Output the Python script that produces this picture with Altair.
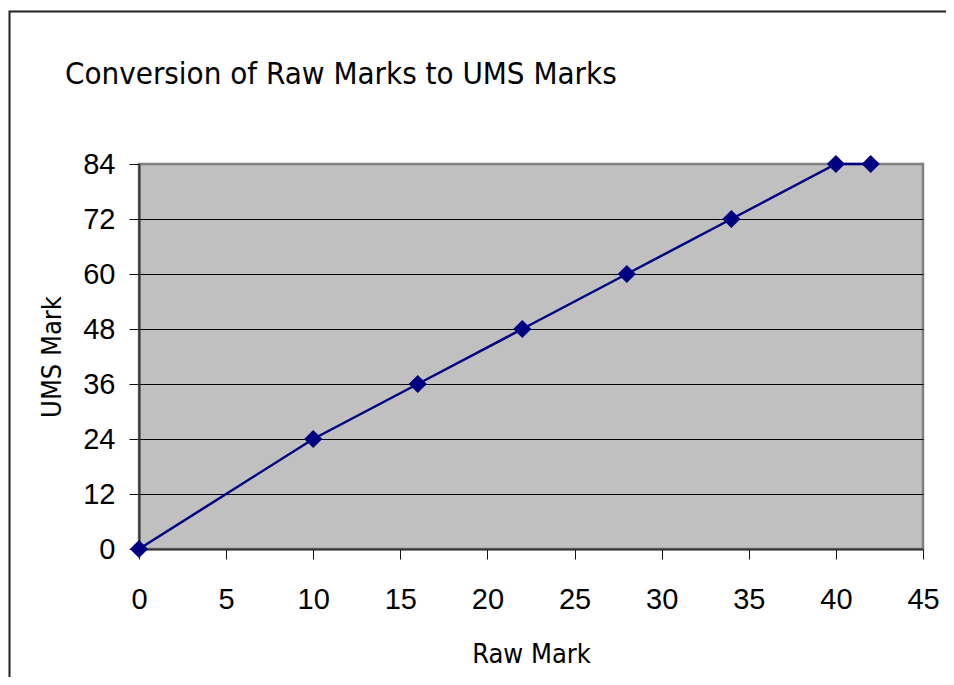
import altair as alt
import pandas as pd

raw_marks = [0, 10, 16, 22, 28, 34, 40, 42]
ums_marks = [0, 24, 36, 48, 60, 72, 84, 84]
x_ticks = [0, 5, 10, 15, 20, 25, 30, 35, 40, 45]
y_ticks = [0, 12, 24, 36, 48, 60, 72, 84]

df = pd.DataFrame({"Raw Mark": raw_marks, "UMS Mark": ums_marks})
frame_df = pd.DataFrame({"f": [0]})

W, H = 784, 385
NAVY = "#000080"
TITLE_FONT = "DejaVu Sans Condensed"
LABEL_FONT = "Liberation Sans"

x_enc = alt.X(
    "Raw Mark:Q",
    scale=alt.Scale(domain=[0, 45], nice=False, zero=False),
    axis=alt.Axis(
        values=x_ticks, grid=False, tickSize=10, tickColor="#111", tickWidth=1,
        domainColor="#333", domainWidth=2, labelFont=LABEL_FONT, labelFontSize=29,
        labelColor="#000", labelPadding=26, labelFlush=False,
        titleFont=TITLE_FONT, titleFontSize=27, titleFontWeight="normal",
        titleColor="#000", titleX=W / 2, titleY=113, titleBaseline="alphabetic",
        titleAlign="center",
    ),
)
y_enc = alt.Y(
    "UMS Mark:Q",
    scale=alt.Scale(domain=[0, 84], nice=False),
    axis=alt.Axis(
        values=y_ticks, grid=True, gridColor="#000", gridWidth=1,
        gridOpacity={"condition": {"test": "datum.value === 84 || datum.value === 0", "value": 0}, "value": 1},
        tickSize=10, tickColor="#111", tickWidth=1,
        domainColor="#333", domainWidth=2, labelFont=LABEL_FONT, labelFontSize=29,
        labelColor="#000", labelPadding=14, labelFlush=False, labelBaseline="middle",
        titleFont=TITLE_FONT, titleFontSize=27, titleFontWeight="normal",
        titleColor="#000", titleAngle=-90, titleX=-87, titleY=H / 2,
        titleBaseline="middle", titleAlign="center",
    ),
)

frame = alt.Chart(frame_df).mark_rect(
    fill=None, stroke="#222", strokeWidth=2, fillOpacity=0
).encode(
    x=alt.value(-129.5), x2=alt.value(900),
    y=alt.value(-152.5), y2=alt.value(700),
)

line = alt.Chart(df).mark_line(color=NAVY, strokeWidth=2.5).encode(x=x_enc, y=y_enc)
points = alt.Chart(df).mark_point(
    shape="diamond", filled=True, color=NAVY, size=330, opacity=1
).encode(x=x_enc, y=y_enc)

chart = alt.layer(frame, line, points).properties(
    width=W,
    height=H,
    background="white",
    title=alt.TitleParams(
        "Conversion of Raw Marks to UMS Marks",
        font=TITLE_FONT, fontSize=31, fontWeight="normal", color="#000",
        anchor="start", frame="group", dx=-74, dy=104, offset=0,
        baseline="alphabetic",
    ),
    autosize=alt.AutoSizeParams(type="none"),
    padding={"left": 131, "top": 156, "right": 23, "bottom": 128},
).configure_view(
    fill="#C0C0C0", stroke="#808080", strokeWidth=2.5
)

chart.save("out.html", embed_options={"renderer": "svg", "actions": False})
